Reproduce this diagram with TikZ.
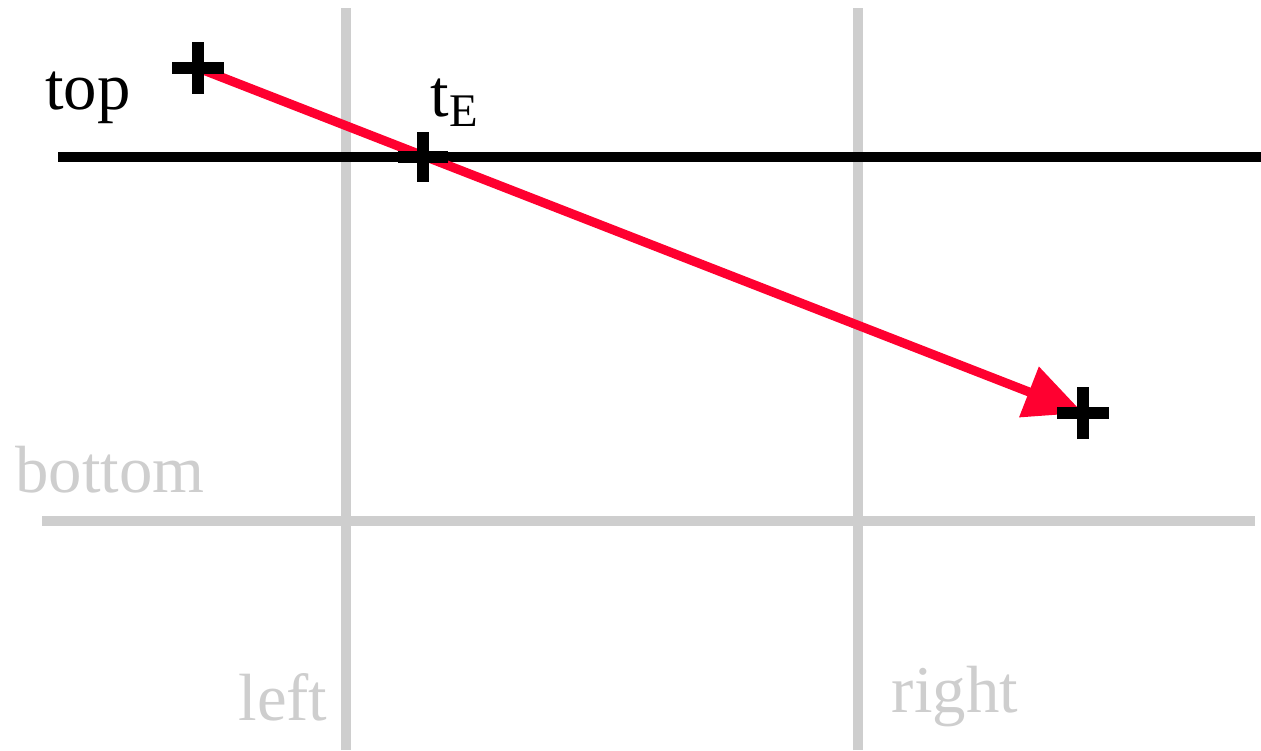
\documentclass[tikz,border=0pt]{standalone}
\usepackage{fontspec}
\setmainfont{Liberation Serif}
\usepackage{xcolor}
\usepackage{tikz}
\usetikzlibrary{positioning, arrows.meta}

\definecolor{clipred}{RGB}{255,0,48}
\definecolor{edgegray}{RGB}{206,206,206}

\begin{document}
\begin{tikzpicture}[
    every node/.style={font=\fontsize{19}{21}\selectfont},
    edge/.style={edgegray, line width=2.8pt},
    plus/.pic={\draw[black, line width=3.4pt] (-0.26,0) -- (0.26,0) (0,-0.26) -- (0,0.26);}]
    \useasboundingbox (0,0) rectangle (12.61,7.5);
    % clip window edges
    \draw[edge] (3.46,0) -- (3.46,7.42);
    \draw[edge] (8.58,0) -- (8.58,7.42);
    \draw[edge] (0.42,2.29) -- (12.55,2.29);
    \draw[black, line width=2.8pt] (0.58,5.93) -- (12.61,5.93);
    \node[edgegray] (Bottom) at (1.10,2.80) {bottom};
    \node[edgegray] (Left) at (2.83,0.53) {left};
    \node[edgegray] (Right) at (9.55,0.53) {right};
    \node (Top) at (0.88,6.52) {top};
    % segment and hit point
    \coordinate (P0) at (1.98,6.82);
    \coordinate (PE) at (4.23,5.93);
    \coordinate (P1) at (10.83,3.37);
    \node (TE) at (4.55,6.47) {t\textsubscript{E}};
    \draw[clipred, line width=2.6pt, -{Triangle[length=0.58cm, width=0.52cm]}, shorten >=0.0cm] (P0) -- (P1);
    \pic at (P0) {plus};
    \pic[scale=0.95] at (PE) {plus};
    \pic at (P1) {plus};
  \end{tikzpicture}
\end{document}
